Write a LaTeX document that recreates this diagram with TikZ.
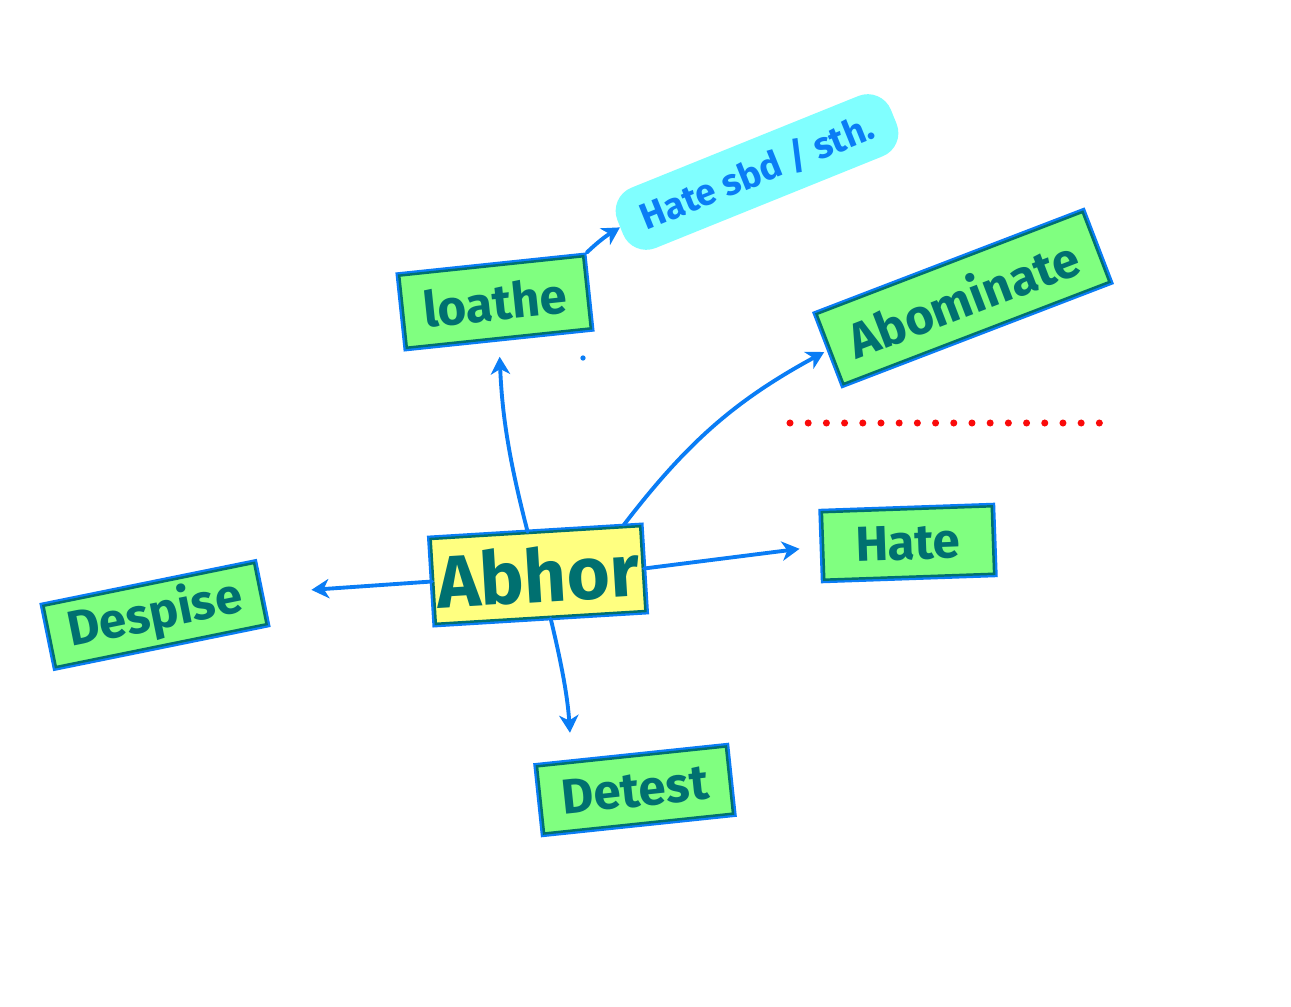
\documentclass[tikz,border=0pt]{standalone}
\usepackage{fontspec}
\setmainfont{Fira Sans}
\usetikzlibrary{arrows.meta}

\definecolor{lineblue}{RGB}{10,125,245}
\definecolor{inkteal}{RGB}{0,112,112}
\definecolor{boxgreen}{RGB}{128,255,128}
\definecolor{hubyellow}{RGB}{255,255,128}
\definecolor{notecyan}{RGB}{128,255,255}
\definecolor{dotred}{RGB}{250,10,10}

\begin{document}
\begin{tikzpicture}[x=0.02cm,y=-0.02cm,
  wordbox/.style={draw=inkteal,line width=1.4pt,fill=boxgreen,text=inkteal,
    preaction={draw=lineblue,line width=4pt},inner sep=2pt,
    font=\fontsize{28}{30}\selectfont\bfseries},
  hub/.style={wordbox,fill=hubyellow,font=\fontsize{42}{46}\selectfont\bfseries},
  note/.style={fill=notecyan,rounded corners=0.5cm,text=lineblue,
    font=\fontsize{21}{24}\selectfont\bfseries},
  link/.style={draw=lineblue,line width=2.2pt,line cap=round,
    -{Stealth[length=10pt,width=11pt,inset=3pt]}},
  reddots/.style={draw=dotred,line width=4pt,line cap=round,
    dash pattern=on 0pt off 0.364cm}]
\useasboundingbox (0,0) rectangle (1291,1007);

% words
\node[hub,rotate=3.5,minimum width=4.2cm,minimum height=1.7cm] (abhor) at (538,575) {Abhor};
\node[wordbox,rotate=6,minimum width=3.7cm,minimum height=1.45cm] (loathe) at (495,302) {loathe};
\node[note,rotate=22,minimum width=5.9cm,minimum height=1.3cm] (hatesbd) at (757,172) {Hate sbd / sth.};
\node[wordbox,rotate=21,minimum width=5.7cm,minimum height=1.5cm] (abominate) at (963,298) {Abominate};
\node[wordbox,rotate=2,minimum width=3.4cm,minimum height=1.35cm] (hate) at (908,543) {Hate};
\node[wordbox,rotate=11.5,minimum width=4.3cm,minimum height=1.25cm] (despise) at (155,615) {Despise};
\node[wordbox,rotate=6,minimum width=3.8cm,minimum height=1.35cm] (detest) at (635,790) {Detest};

% arrows
\draw[link,shorten >=0.35cm] (abhor.100) to[bend left=6] (loathe.south);
\draw[link,shorten <=2pt] (loathe.north east) to[bend left=6] (hatesbd.west);
\draw[link,shorten >=3pt] ([xshift=-0.35cm]abhor.north east) to[bend left=12] (abominate.west);
\draw[link,shorten >=0.45cm] (abhor.east) -- (hate.west);
\draw[link,shorten >=1cm] (abhor.west) -- (despise.east);
\draw[link,shorten >=0.45cm] ([xshift=0.2cm]abhor.south) to[bend left=5] ([xshift=-1.2cm]detest.north);

% dotted rule and stray dot
\coordinate (ruleL) at (790,423);
\coordinate (ruleR) at (1101,423);
\draw[reddots] (ruleL) -- (ruleR);
\fill[lineblue] (583,358) circle (1.5pt);
\end{tikzpicture}
\end{document}
